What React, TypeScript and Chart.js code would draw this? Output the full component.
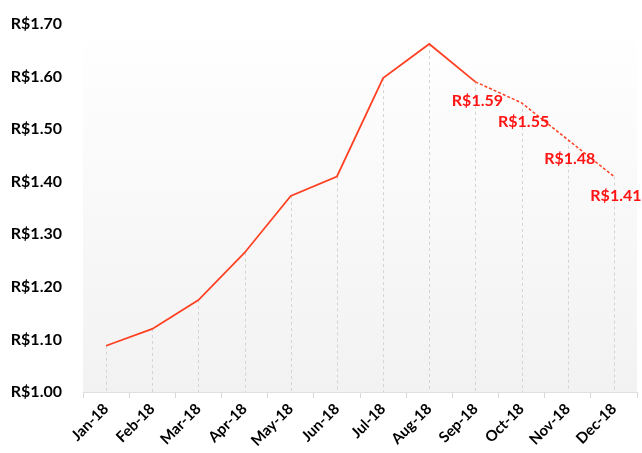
import React, { useEffect, useRef } from "react";
import { Chart, registerables } from "chart.js";

Chart.register(...registerables);

const months = ["Jan-18", "Feb-18", "Mar-18", "Apr-18", "May-18", "Jun-18", "Jul-18", "Aug-18", "Sep-18", "Oct-18", "Nov-18", "Dec-18"];
const actual = [1.088, 1.12, 1.175, 1.265, 1.373, 1.41, 1.597, 1.662, 1.59, null, null, null];
const forecast = [null, null, null, null, null, null, null, null, 1.59, 1.55, 1.48, 1.41];
const forecastLabels = [null, null, null, null, null, null, null, null, "R$1.59", "R$1.55", "R$1.48", "R$1.41"];

const FONT = "Lato, 'Open Sans', sans-serif";
const LINE = "#ff4022";

const bgPlugin = {
  id: "bgGradient",
  beforeDraw(chart: any) {
    const { ctx, chartArea } = chart;
    if (!chartArea) return;
    const g = ctx.createLinearGradient(0, chartArea.top, 0, chartArea.bottom);
    g.addColorStop(0, "#ffffff");
    g.addColorStop(1, "#f2f2f2");
    ctx.save();
    ctx.fillStyle = g;
    ctx.fillRect(chartArea.left, chartArea.top, chartArea.right - chartArea.left, chartArea.bottom - chartArea.top);
    ctx.restore();
  },
};

const dropPlugin = {
  id: "dropLines",
  beforeDatasetsDraw(chart: any) {
    const { ctx, chartArea } = chart;
    ctx.save();
    ctx.strokeStyle = "#d4d4d4";
    ctx.lineWidth = 1;
    ctx.setLineDash([3, 3]);
    chart.data.datasets.forEach((ds: any, di: number) => {
      const meta = chart.getDatasetMeta(di);
      meta.data.forEach((pt: any, i: number) => {
        if (ds.data[i] == null) return;
        if (di === 1 && i === 8) return;
        ctx.beginPath();
        ctx.moveTo(Math.round(pt.x) + 0.5, pt.y);
        ctx.lineTo(Math.round(pt.x) + 0.5, chartArea.bottom);
        ctx.stroke();
      });
    });
    ctx.restore();
  },
};

const labelPlugin = {
  id: "valueLabels",
  afterDatasetsDraw(chart: any) {
    const { ctx } = chart;
    const meta = chart.getDatasetMeta(1);
    ctx.save();
    ctx.fillStyle = "#ff1414";
    ctx.font = `bold 16px ${FONT}`;
    ctx.textAlign = "center";
    ctx.textBaseline = "middle";
    meta.data.forEach((pt: any, i: number) => {
      const t = forecastLabels[i];
      if (!t) return;
      ctx.fillText(t, pt.x + 2, pt.y + 19);
    });
    ctx.restore();
  },
};

export default function App() {
  const ref = useRef<HTMLCanvasElement>(null);
  useEffect(() => {
    const chart = new Chart(ref.current!, {
      type: "line",
      data: {
        labels: months,
        datasets: [
          {
            data: actual,
            borderColor: LINE,
            borderWidth: 1.75,
            pointRadius: 0,
            tension: 0,
          },
          {
            data: forecast,
            borderColor: LINE,
            borderWidth: 1.5,
            borderDash: [3, 2],
            pointRadius: 0,
            tension: 0,
          },
        ],
      },
      options: {
        animation: false,
        responsive: false,
        maintainAspectRatio: false,
        layout: { padding: { top: 24, right: 5, left: 0, bottom: 0 } },
        plugins: { legend: { display: false }, tooltip: { enabled: false } },
        scales: {
          x: {
            offset: true,
            grid: { offset: true, drawOnChartArea: false, drawTicks: true, tickLength: 6, color: "#d9d9d9" },
            border: { color: "#e0e0e0" },
            ticks: {
              color: "#000",
              font: { family: FONT, weight: "bold", size: 15 },
              minRotation: 45,
              maxRotation: 45,
              padding: 2,
              autoSkip: false,
            },
            afterFit(scale: any) {
              scale.height = 61;
            },
          },
          y: {
            min: 1.0,
            max: 1.7,
            grid: { display: false, drawTicks: false },
            border: { display: false },
            ticks: {
              stepSize: 0.1,
              color: "#000",
              padding: 21,
              font: { family: FONT, weight: "bold", size: 16 },
              callback: (v: any) => "R$" + Number(v).toFixed(2),
            },
            afterFit(scale: any) {
              scale.width = 83;
              scale.paddingTop = 0;
              scale.paddingBottom = 0;
            },
          },
        },
      },
      plugins: [bgPlugin, dropPlugin, labelPlugin],
    });
    return () => chart.destroy();
  }, []);
  return (
    <div style={{ position: "fixed", left: 0, top: 0, width: 642, height: 453, background: "#fff" }}>
      <canvas ref={ref} width={642} height={453} style={{ width: 642, height: 453 }} />
    </div>
  );
}
